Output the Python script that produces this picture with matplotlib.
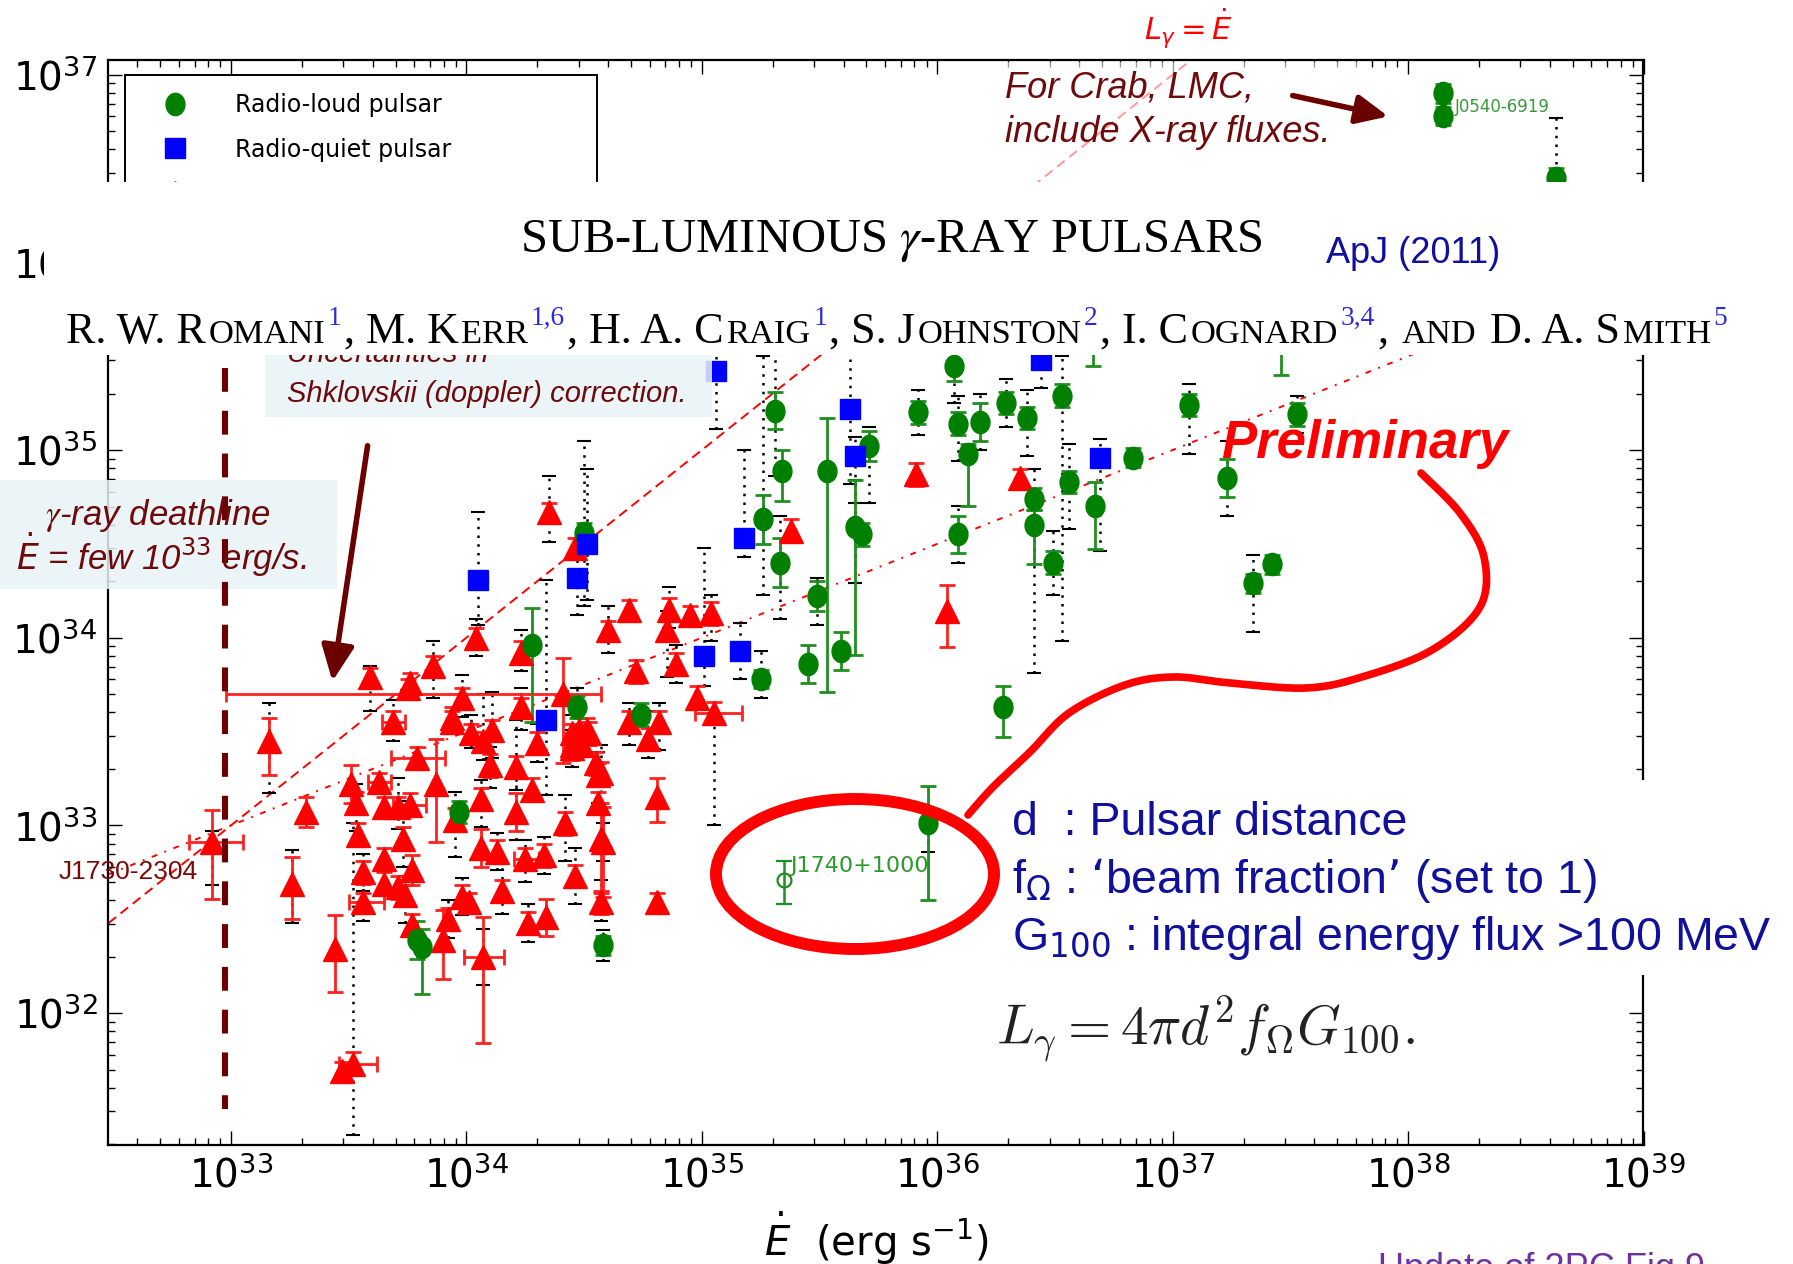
import numpy as np
import matplotlib.pyplot as plt
from matplotlib.lines import Line2D
from matplotlib.markers import MarkerStyle
from matplotlib.patches import Rectangle, Ellipse, FancyArrowPatch
from matplotlib.transforms import Affine2D, Bbox

plt.rcParams['font.family'] = 'DejaVu Sans'

# Columns: log10 Edot, log10 L_gamma, stat err (-,+), distance range (-,+) [dex]
# MSPs carry two more columns: Edot err (-,+) [dex]
msp_rows = [
    (33.16, 33.45, 0.18, 0.12, 0.28, 0.20, 0, 0),
    (33.59, 33.79, 0.05, 0.05, 0.18, 0.06, 0, 0),
    (33.76, 33.76, 0.05, 0.05, 0, 0, 0, 0),
    (33.86, 33.85, 0.05, 0.05, 0.17, 0.13, 0, 0),
    (34.04, 34.00, 0.05, 0.05, 0.10, 0.10, 0, 0),
    (34.35, 34.67, 0.05, 0.05, 0.16, 0.19, 0, 0),
    (34.46, 34.48, 0.05, 0.05, 0, 0, 0, 0),
    (34.23, 33.92, 0.06, 0.06, 0.10, 0.12, 0, 0),
    (34.23, 33.63, 0.05, 0.05, 0.12, 0.10, 0, 0),
    (34.41, 33.70, 0.37, 0.19, 0, 0, 1.43, 0.16),
    (34.60, 34.04, 0.05, 0.05, 0.12, 0.13, 0, 0),
    (33.98, 33.68, 0.05, 0.05, 0.10, 0.12, 0, 0),
    (33.94, 33.55, 0.06, 0.06, 0, 0, 0, 0),
    (34.02, 33.49, 0.05, 0.05, 0.08, 0.10, 0, 0),
    (34.07, 33.45, 0.05, 0.05, 0.10, 0.25, 0, 0),
    (34.11, 33.51, 0.05, 0.05, 0.15, 0.20, 0, 0),
    (34.45, 33.49, 0.05, 0.05, 0.10, 0.10, 0, 0),
    (34.51, 33.51, 0.06, 0.06, 0, 0, 0, 0),
    (33.69, 33.55, 0.06, 0.06, 0.10, 0.12, 0.05, 0.05),
    (33.79, 33.36, 0.06, 0.06, 0, 0, 0.11, 0.12),
    (32.92, 32.91, 0.30, 0.17, 0.23, 0.06, 0.10, 0.13),
    (33.32, 33.07, 0.08, 0.08, 0, 0, 0, 0),
    (33.26, 32.69, 0.19, 0.14, 0.21, 0.18, 0, 0),
    (33.44, 32.34, 0.23, 0.18, 0, 0, 0, 0),
    (33.51, 33.22, 0.10, 0.10, 0, 0, 0, 0),
    (33.53, 33.12, 0.06, 0.06, 0.15, 0.10, 0, 0),
    (33.63, 33.23, 0.05, 0.05, 0, 0, 0.05, 0.05),
    (33.65, 33.10, 0.05, 0.05, 0, 0, 0, 0),
    (33.71, 33.10, 0.05, 0.05, 0.12, 0.15, 0, 0),
    (33.76, 33.11, 0.06, 0.06, 0, 0, 0.07, 0.07),
    (33.87, 33.22, 0.31, 0.24, 0, 0, 0, 0),
    (33.95, 33.03, 0.06, 0.06, 0.20, 0.15, 0, 0),
    (33.73, 32.93, 0.06, 0.06, 0.15, 0.20, 0, 0),
    (33.65, 32.82, 0.06, 0.06, 0, 0, 0, 0),
    (33.56, 32.75, 0.06, 0.06, 0.10, 0.10, 0, 0),
    (33.65, 32.69, 0.06, 0.06, 0, 0, 0, 0),
    (33.77, 32.76, 0.08, 0.08, 0, 0, 0, 0),
    (33.74, 32.63, 0.05, 0.05, 0.15, 0.10, 0, 0),
    (33.56, 32.59, 0.05, 0.05, 0.10, 0.10, 0.06, 0.09),
    (33.77, 32.47, 0.06, 0.06, 0, 0, 0, 0),
    (33.90, 32.39, 0.21, 0.16, 0, 0, 0, 0),
    (33.92, 32.50, 0.06, 0.06, 0.10, 0.10, 0, 0),
    (33.98, 32.62, 0.06, 0.06, 0.10, 0.10, 0, 0),
    (34.01, 32.59, 0.05, 0.05, 0, 0, 0, 0),
    (34.07, 32.30, 0.46, 0.21, 0.15, 0.15, 0.08, 0.09),
    (34.06, 32.88, 0.10, 0.10, 0, 0, 0, 0),
    (34.06, 33.14, 0.06, 0.06, 0.15, 0.10, 0, 0),
    (34.15, 32.65, 0.06, 0.06, 0.12, 0.15, 0, 0),
    (34.21, 33.07, 0.10, 0.10, 0.15, 0.20, 0, 0),
    (34.21, 33.31, 0.06, 0.06, 0.12, 0.25, 0, 0),
    (34.25, 32.82, 0.06, 0.06, 0.12, 0.10, 0.05, 0.06),
    (34.33, 32.84, 0.06, 0.06, 0.10, 0.10, 0, 0),
    (34.26, 32.48, 0.06, 0.06, 0.10, 0.10, 0, 0),
    (34.34, 32.51, 0.10, 0.10, 0, 0, 0, 0),
    (34.42, 33.01, 0.06, 0.06, 0.20, 0.15, 0, 0),
    (34.46, 32.73, 0.06, 0.06, 0.15, 0.15, 0, 0),
    (34.57, 32.93, 0.29, 0.19, 0, 0, 0, 0),
    (34.57, 32.59, 0.06, 0.06, 0.10, 0.12, 0, 0),
    (34.56, 33.27, 0.06, 0.06, 0.15, 0.12, 0, 0),
    (34.45, 33.43, 0.06, 0.06, 0, 0, 0, 0),
    (34.49, 33.43, 0.06, 0.06, 0, 0, 0, 0),
    (33.52, 31.73, 0.06, 0.06, 0.38, 1.28, 0.06, 0.10),
    (33.47, 31.69, 0.05, 0.05, 0, 0, 0, 0),
    (34.69, 34.15, 0.05, 0.05, 0, 0, 0, 0),
    (34.86, 34.15, 0.06, 0.06, 0.10, 0.12, 0, 0),
    (34.85, 34.04, 0.06, 0.06, 0.25, 0.10, 0, 0),
    (34.95, 34.12, 0.05, 0.05, 0, 0, 0, 0),
    (35.04, 34.13, 0.06, 0.06, 0.15, 0.10, 0, 0),
    (34.89, 33.86, 0.06, 0.06, 0.10, 0.10, 0, 0),
    (34.72, 33.82, 0.06, 0.06, 0, 0, 0, 0),
    (35.38, 34.57, 0.06, 0.06, 0, 0, 0, 0),
    (35.91, 34.87, 0.06, 0.06, 0, 0, 0, 0),
    (36.04, 34.14, 0.19, 0.14, 0, 0, 0, 0),
    (36.35, 34.85, 0.05, 0.05, 0, 0, 0, 0),
    (34.81, 33.15, 0.13, 0.10, 0, 0, 0, 0),
    (34.81, 32.59, 0.05, 0.05, 0, 0, 0, 0),
    (34.69, 33.55, 0.06, 0.06, 0.12, 0.10, 0, 0),
    (34.77, 33.46, 0.06, 0.06, 0.10, 0.15, 0, 0),
    (34.82, 33.55, 0.06, 0.06, 0.15, 0.10, 0, 0),
    (34.98, 33.68, 0.06, 0.06, 0, 0, 0, 0),
    (35.05, 33.60, 0.06, 0.06, 0.60, 0, 0.08, 0.12),
    (34.57, 33.28, 0.06, 0.06, 0.20, 0.15, 0, 0),
    (34.58, 32.91, 0.29, 0.19, 0.10, 0.10, 0, 0),
    (34.48, 33.51, 0.06, 0.06, 0, 0, 0, 0),
    (34.52, 33.49, 0.06, 0.06, 0, 0, 0, 0),
    (33.75, 33.73, 0.05, 0.05, 0, 0, 0, 0),
    (33.94, 33.57, 0.06, 0.06, 0, 0, 0, 0),
    (34.10, 33.32, 0.06, 0.06, 0.12, 0.10, 0, 0),
    (34.28, 33.19, 0.06, 0.06, 0, 0, 0, 0),
    (34.30, 33.44, 0.06, 0.06, 0.10, 0.10, 0, 0),
    (34.45, 33.41, 0.06, 0.06, 0.10, 0.10, 0, 0),
    (34.56, 33.12, 0.06, 0.06, 0, 0, 0, 0),
    (34.55, 33.33, 0.06, 0.06, 0, 0, 0, 0),
    (34.13, 32.86, 0.06, 0.06, 0.10, 0.10, 0, 0),
    (33.71, 32.67, 0.06, 0.06, 0, 0, 0, 0),
    (33.54, 32.95, 0.06, 0.06, 0, 0, 0, 0),
]

loud_rows = [
    (34.28, 33.96, 0.41, 0.20, 0, 0),
    (34.50, 34.56, 0.05, 0.05, 0.39, 0.49),
    (34.47, 33.63, 0.06, 0.06, 0.10, 0.10),
    (33.97, 33.07, 0.06, 0.06, 0, 0),
    (33.79, 32.39, 0.10, 0.10, 0, 0),
    (33.81, 32.35, 0.25, 0.10, 0, 0),
    (34.58, 32.36, 0.05, 0.05, 0.08, 0.08),
    (34.74, 33.59, 0.06, 0.06, 0, 0),
    (35.26, 34.63, 0.13, 0.13, 0.40, 0.87),
    (35.33, 34.40, 0.13, 0.13, 0.30, 0.25),
    (35.31, 35.21, 0.10, 0.10, 0.35, 0.30),
    (35.34, 34.89, 0.16, 0.11, 0, 0),
    (35.53, 34.89, 1.18, 0.28, 0, 0),
    (35.49, 34.22, 0.08, 0.08, 0.15, 0.10),
    (35.45, 33.86, 0.10, 0.10, 0, 0),
    (35.59, 33.93, 0.10, 0.10, 0, 0),
    (35.25, 33.78, 0.05, 0.05, 0.10, 0.15),
    (35.71, 35.02, 0.08, 0.08, 0.30, 0.10),
    (35.65, 34.59, 0.68, 0.25, 0.30, 0.25),
    (35.68, 34.55, 0.06, 0.06, 0, 0),
    (35.92, 35.20, 0.06, 0.06, 0.12, 0.12),
    (36.07, 35.45, 0.08, 0.08, 0.20, 0.10),
    (36.09, 35.14, 0.06, 0.06, 0.20, 0.15),
    (36.18, 35.15, 0.10, 0.10, 0.15, 0.15),
    (36.13, 34.98, 0.28, 0.05, 0, 0),
    (36.09, 34.55, 0.10, 0.10, 0.15, 0.15),
    (36.29, 35.25, 0.06, 0.06, 0.13, 0.13),
    (36.38, 35.17, 0.06, 0.06, 0.20, 0.15),
    (36.53, 35.29, 0.06, 0.06, 1.31, 0.21),
    (36.41, 34.74, 0.06, 0.06, 0, 0),
    (36.41, 34.60, 0.21, 0.08, 0.79, 0.30),
    (36.49, 34.40, 0.06, 0.06, 0.17, 0.17),
    (36.56, 34.83, 0.06, 0.06, 0.25, 0.20),
    (36.67, 34.70, 0.23, 0.13, 0, 0),
    (36.83, 34.96, 0.05, 0.05, 0, 0),
    (37.07, 35.24, 0.06, 0.06, 0.26, 0.11),
    (37.53, 35.19, 0.06, 0.06, 0.10, 0.10),
    (37.23, 34.85, 0.10, 0.10, 0.20, 0.20),
    (37.46, 35.60, 0.20, 0.10, 0, 0),
    (36.66, 35.60, 0.15, 0.10, 0, 0),
    (37.42, 34.39, 0.05, 0.05, 0, 0),
    (37.34, 34.29, 0.05, 0.05, 0.26, 0.15),
    (36.28, 33.63, 0.16, 0.11, 0, 0),
    (35.96, 33.01, 0.41, 0.20, 0.15, 0),
    (38.15, 36.90, 0.05, 0.05, 0, 0),
    (38.15, 36.78, 0.05, 0.05, 0, 0),
    (38.63, 36.45, 0.05, 0.05, 0.30, 0.32),
]

quiet_rows = [
    (34.05, 34.31, 0, 0, 0.24, 0.36),
    (34.51, 34.50, 0, 0, 0.30, 0.40),
    (34.47, 34.32, 0, 0, 0.20, 0.10),
    (34.34, 33.56, 0, 0, 0.40, 0.75),
    (35.06, 35.42, 0, 0, 0.31, 0.20),
    (35.01, 33.90, 0, 0, 0.16, 0.58),
    (35.16, 33.93, 0, 0, 0.15, 0.15),
    (35.18, 34.53, 0, 0, 0.10, 0.47),
    (35.63, 35.22, 0, 0, 0.40, 0.30),
    (35.65, 34.97, 0, 0, 0.25, 0.10),
    (36.44, 35.48, 0, 0, 0.15, 0.10),
    (36.69, 34.96, 0, 0, 0.50, 0.10),
]

# J1740+1000 without the distance correction (open symbol)
j1740_open = (35.35, 32.71, 0.13, 0.10)

edot_range = (10**32.479, 10**39.0)
lum_range = (10**31.297, 10**37.078)

W, H = 1793, 1264
fig = plt.figure(figsize=(W / 100, H / 100), dpi=100)
ax = fig.add_axes([108.4 / W, 1 - 1145 / H, (1643.5 - 108.4) / W, (1145 - 60) / H])


def fx(x):
    return x / W


def fy(y):
    return 1 - y / H


oval = MarkerStyle('o', transform=Affine2D().scale(0.85, 1.0))


def draw_population(rows, marker, color, ecolor, ms):
    r = np.array(rows, dtype=float)
    e, l = 10 ** r[:, 0], 10 ** r[:, 1]
    dist = (r[:, 4] + r[:, 5]) > 0
    if dist.any():
        lo = l[dist] - 10 ** (r[dist, 1] - r[dist, 4])
        hi = 10 ** (r[dist, 1] + r[dist, 5]) - l[dist]
        eb = ax.errorbar(e[dist], l[dist], yerr=[lo, hi], fmt='none', ecolor='black',
                         elinewidth=1.8, capsize=5, capthick=1.5, zorder=2)
        eb[2][0].set_linestyle((0, (1, 2.5)))
    stat = (r[:, 2] + r[:, 3]) > 0
    if stat.any():
        lo = l[stat] - 10 ** (r[stat, 1] - r[stat, 2])
        hi = 10 ** (r[stat, 1] + r[stat, 3]) - l[stat]
        ax.errorbar(e[stat], l[stat], yerr=[lo, hi], fmt='none', ecolor=ecolor,
                    elinewidth=2.0, capsize=5.5, capthick=2.0, zorder=3)
    if r.shape[1] > 6:
        hor = (r[:, 6] + r[:, 7]) > 0
        lo = e[hor] - 10 ** (r[hor, 0] - r[hor, 6])
        hi = 10 ** (r[hor, 0] + r[hor, 7]) - e[hor]
        ax.errorbar(e[hor], l[hor], xerr=[lo, hi], fmt='none', ecolor=ecolor,
                    elinewidth=2.0, capsize=5.5, capthick=2.0, zorder=3)
    ax.plot(e, l, ls='none', marker=marker, ms=ms, color=color, mec=color, zorder=4)


# reference lines: L = Edot and L = sqrt(1e33 Edot)
edot_line = np.logspace(np.log10(edot_range[0]), np.log10(edot_range[1]), 60)
ax.plot(edot_line, edot_line, color='red', lw=1.4, ls=(0, (5, 3)), zorder=1)
ax.plot(edot_line, np.sqrt(1e33 * edot_line), color='red', lw=1.4,
        ls=(0, (3, 4, 1, 4)), zorder=1)

draw_population(msp_rows, '^', 'red', '#ff2020', 17)
draw_population(loud_rows, oval, '#008000', '#1f8f1f', 16)
draw_population(quiet_rows, 's', 'blue', 'blue', 15)

je, jl, jlo, jhi = j1740_open
ax.errorbar([10 ** je], [10 ** jl],
            yerr=[[10 ** jl - 10 ** (jl - jlo)], [10 ** (jl + jhi) - 10 ** jl]],
            fmt='o', ms=10, mfc='none', mec='#1f8f1f', ecolor='#1f8f1f',
            elinewidth=1.8, capsize=5.5, capthick=1.8, mew=1.6, zorder=4)

ax.set_xscale('log')
ax.set_yscale('log')
ax.set_xlim(*edot_range)
ax.set_ylim(*lum_range)
ax.tick_params(which='both', direction='in', top=True, right=True, width=1.0)
ax.tick_params(which='major', length=10, labelsize=28, pad=8)
ax.tick_params(which='minor', length=5)
for s in ax.spines.values():
    s.set_linewidth(1.6)
ax.set_xlabel(r'$\dot{E}$  (erg s$^{-1}$)', fontsize=29, labelpad=10)

handles = [
    Line2D([], [], ls='none', marker=oval, ms=16, color='#008000'),
    Line2D([], [], ls='none', marker='s', ms=15, color='blue'),
    Line2D([], [], ls='none', marker='^', ms=17, color='red'),
]
leg = ax.legend(handles, ['Radio-loud pulsar', 'Radio-quiet pulsar', 'Millisecond pulsar'],
                loc='upper left', bbox_to_anchor=(0.0108, 0.75, 0.3075, 0.236), mode='expand',
                borderaxespad=0, fontsize=17, numpoints=1, handlelength=2.7, handletextpad=1.2,
                borderpad=0.75, labelspacing=0.88, fancybox=False, framealpha=1)
leg.get_frame().set_edgecolor('black')
leg.get_frame().set_linewidth(1.4)

# slide overlays, placed in pixel units of the page
box_blue = '#e8f3f6'
dark_red = '#6e0a0a'
navy = '#10109c'

fig.add_artist(Rectangle((fx(265), fy(417)), (712 - 265) / W, (417 - 300) / H,
                         transform=fig.transFigure, fc=box_blue, ec='none', alpha=0.85, zorder=3))
fig.add_artist(Rectangle((fx(0), fy(589)), 337 / W, (589 - 480) / H,
                         transform=fig.transFigure, fc=box_blue, ec='none', alpha=0.85, zorder=3))
fig.add_artist(Rectangle((fx(983), fy(182)), (1361 - 983) / W, (182 - 62) / H,
                         transform=fig.transFigure, fc='white', ec='none', alpha=0.6, zorder=3))
first_line = fig.text(fx(287), fy(362), 'Uncertainties in', fontsize=21, style='italic',
                      family='Liberation Sans', color=dark_red, va='baseline', zorder=4)
first_line.set_clip_box(Bbox.from_extents(0, 0, W, H - 355))

# paper header band
fig.add_artist(Rectangle((fx(44), fy(355)), (W - 44) / W, (355 - 182) / H,
                         transform=fig.transFigure, fc='white', ec='none', zorder=5))
fig.add_artist(Rectangle((fx(990), fy(975)), (W - 990) / W, (975 - 780) / H,
                         transform=fig.transFigure, fc='white', ec='none', zorder=5))

fig.text(fx(520), fy(252), r'SUB-LUMINOUS $\gamma$-RAY PULSARS', fontsize=35,
         family='Liberation Serif', math_fontfamily='stix', va='baseline', zorder=6)
fig.text(fx(1326), fy(263), 'ApJ (2011)', fontsize=26, family='Liberation Sans',
         color=navy, va='baseline', zorder=6)

author_parts = [
    ('R. W. R', 'big'), ('OMANI', 'small'), ('1', 'sup'), (', M. K', 'big'), ('ERR', 'small'),
    ('1,6', 'sup'), (', H. A. C', 'big'), ('RAIG', 'small'), ('1', 'sup'), (', S. J', 'big'),
    ('OHNSTON', 'small'), ('2', 'sup'), (', I. C', 'big'), ('OGNARD', 'small'), ('3,4', 'sup'),
    (',', 'big'), ('', 'gap'), ('AND', 'small'), ('', 'gap'), ('D. A. S', 'big'),
    ('MITH', 'small'), ('5', 'sup'),
]


def author_line(x0, base, big, keep):
    renderer = fig.canvas.get_renderer()
    sizes = {'big': big, 'small': big * 0.78, 'sup': big * 0.62}
    x = x0
    made = []
    for s, kind in author_parts:
        if kind == 'gap':
            x += big * 100 / 72 * 0.25
            continue
        y = base - (0.4 * big * 100 / 72 if kind == 'sup' else 0)
        t = fig.text(fx(x), fy(y), s, fontsize=sizes[kind], family='Liberation Serif',
                     color='#2b2bd8' if kind == 'sup' else 'black', va='baseline', zorder=6)
        made.append(t)
        x += t.get_window_extent(renderer).width + 2.5
    if not keep:
        for t in made:
            t.remove()
    return x - x0


trial = author_line(66, 343, 30, keep=False)
author_line(66, 343, 30 * 1666 / trial, keep=True)

fig.text(fx(287), fy(402), 'Shklovskii (doppler) correction.', fontsize=21, style='italic',
         family='Liberation Sans', color=dark_red, va='baseline', zorder=6)
fig.text(fx(158), fy(525), r'$\gamma$-ray deathline', fontsize=25, style='italic',
         family='Liberation Sans', math_fontfamily='stix', color=dark_red, ha='center',
         va='baseline', zorder=6)
fig.text(fx(161), fy(570), r'$\dot{E}$ = few 10$^{33}$ erg/s.', fontsize=25, style='italic',
         family='Liberation Sans', color=dark_red, ha='center', va='baseline', zorder=6)

fig.text(fx(1005), fy(97), 'For Crab, LMC,', fontsize=26, style='italic',
         family='Liberation Sans', color=dark_red, va='baseline', zorder=6)
fig.text(fx(1005), fy(142), 'include X-ray fluxes.', fontsize=26, style='italic',
         family='Liberation Sans', color=dark_red, va='baseline', zorder=6)
fig.text(fx(1189), fy(40), r'$L_{\gamma} = \dot{E}$', fontsize=22, color='red',
         ha='center', va='baseline', zorder=6)

fig.text(fx(1221), fy(458), 'Preliminary', fontsize=38, style='italic', weight='bold',
         family='Liberation Sans', color='red', va='baseline', zorder=6)

fig.text(fx(1012), fy(835), 'd  : Pulsar distance', fontsize=33.5, family='Liberation Sans',
         color=navy, va='baseline', zorder=6)
fig.text(fx(1012), fy(893), 'f$_{\\Omega}$ : \u2018beam fraction\u2019 (set to 1)', fontsize=33.5,
         family='Liberation Sans', color=navy, va='baseline', zorder=6)
fig.text(fx(1012), fy(950), 'G$_{100}$ : integral energy flux >100 MeV', fontsize=33.5,
         family='Liberation Sans', color=navy, va='baseline', zorder=6)
fig.text(fx(996), fy(1045), r'$L_\gamma = 4\pi d^2 f_\Omega G_{100}.$', fontsize=40,
         math_fontfamily='cm', color='#222222', va='baseline', zorder=6)

fig.text(fx(59), fy(872), 'J1730-2304', fontsize=19, family='Liberation Sans',
         color='#7a0a0a', va='center', zorder=6)
fig.text(fx(790), fy(866), 'J1740+1000', fontsize=16, color='#2a9a2a', va='center', zorder=6)
fig.text(fx(1455), fy(107), 'J0540-6919', fontsize=12, color='#3a9a3a', va='center', zorder=6)

fig.text(fx(1378), fy(1252), 'Update of 2PC Fig 9', fontsize=26, family='Liberation Sans',
         color='#7030a0', va='top', zorder=6)

# gamma-ray deathline
fig.add_artist(Line2D([fx(225), fx(225)], [fy(368), fy(1109)], transform=fig.transFigure,
                      color='#6b0000', lw=4.4, dashes=(3.9, 3.1), zorder=6))

# arrows
fig.add_artist(FancyArrowPatch((fx(368), fy(443)), (fx(332), fy(684)), transform=fig.transFigure,
                               arrowstyle='-|>,head_length=1.2,head_width=0.55', mutation_scale=18,
                               lw=4.0, color='#6b0000', zorder=7))
fig.add_artist(FancyArrowPatch((fx(1290), fy(95)), (fx(1391), fy(117)), transform=fig.transFigure,
                               arrowstyle='-|>,head_length=1.2,head_width=0.55', mutation_scale=16,
                               lw=4.0, color='#6b0000', zorder=7))


def smooth(points, n=24):
    p = np.array(points, dtype=float)
    p = np.vstack([p[0], p, p[-1]])
    out = []
    t = np.linspace(0, 1, n, endpoint=False)[:, None]
    for i in range(1, len(p) - 2):
        p0, p1, p2, p3 = p[i - 1], p[i], p[i + 1], p[i + 2]
        out.append(0.5 * (2 * p1 + (-p0 + p2) * t + (2 * p0 - 5 * p1 + 4 * p2 - p3) * t ** 2
                          + (-p0 + 3 * p1 - 3 * p2 + p3) * t ** 3))
    out.append(p[-2][None])
    return np.vstack(out)


stroke = smooth([(1421, 473), (1460, 513), (1484, 557), (1480, 607), (1432, 650), (1362, 677),
                 (1306, 688), (1230, 683), (1174, 677), (1125, 685), (1069, 713), (1030, 752),
                 (993, 787), (968, 815)])
fig.add_artist(Line2D(stroke[:, 0] / W, 1 - stroke[:, 1] / H, transform=fig.transFigure,
                      color='red', lw=5.5, solid_capstyle='round', zorder=7))
fig.add_artist(Ellipse((fx(855), fy(874)), 278 / W, 150 / H, transform=fig.transFigure,
                       fc='none', ec='red', lw=8.6, zorder=7))

fig.savefig('out.png', dpi=100)
